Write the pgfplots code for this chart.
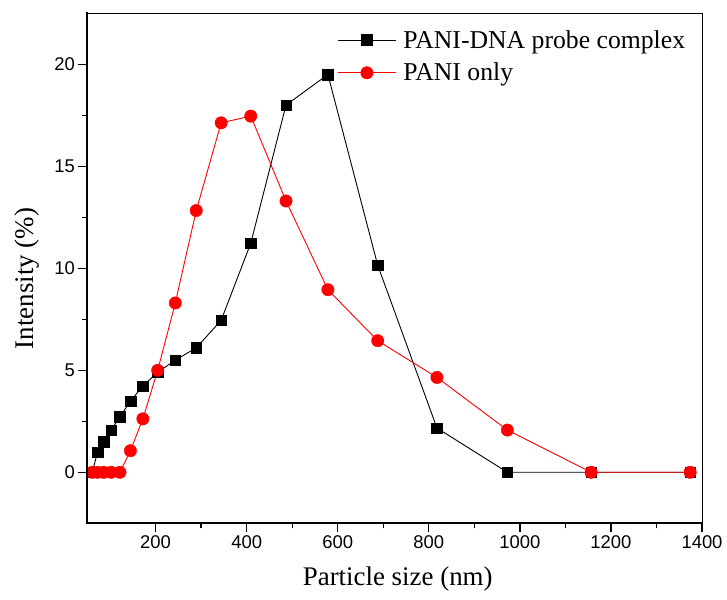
\documentclass[border=0pt]{standalone}
\usepackage{fontspec}
\setmainfont{Liberation Serif}
\newfontfamily\arialfont{Liberation Sans}
\usepackage{pgfplots}
\pgfplotsset{compat=1.18}
\usepackage{pgfplotstable}

\pgfplotstableread{
x y
60.9 0
72.4 0.98
86.1 1.5
102.4 2.07
121.7 2.72
144.7 3.49
172.1 4.23
204.6 4.9
243.3 5.5
289.3 6.1
344 7.45
409 11.23
486.4 18.0
578.4 19.5
687.8 10.15
817.9 2.17
972.6 0
1156.5 0
1374 0
}\dnatable

\pgfplotstableread{
x y
60.9 0
72.4 0
86.1 0
102.4 0
121.7 0
144.7 1.06
172.1 2.62
204.6 5.0
243.3 8.3
289.3 12.83
344 17.13
409 17.46
486.4 13.3
578.4 8.95
687.8 6.45
817.9 4.65
972.6 2.07
1156.5 0
1374 0
}\panitable

\begin{document}
\begin{tikzpicture}
\begin{axis}[
  at={(0,0)}, anchor=south west,
  scale only axis,
  width=614.7bp, height=510bp,
  xmin=50, xmax=1400,
  ymin=-2.5, ymax=22.5,
  xtick={200,400,...,1400},
  ytick={0,5,10,15,20},
  minor x tick num=1,
  minor y tick num=1,
  tick align=outside,
  xtick pos=lower, ytick pos=left,
  major tick length=9bp,
  minor tick length=5bp,
  every tick/.style={black, line width=1.3bp},
  axis line style={line width=0.8bp},
  /pgf/number format/assume math mode=true,
  /pgf/number format/1000 sep={},
  ticklabel style={font=\arialfont\fontsize{18.5}{20}\selectfont},
  xlabel={Particle size (nm)},
  ylabel={Intensity (\%)},
  every axis x label/.style={at={(axis description cs:0.505,-0.1098)}, anchor=center, font=\fontsize{27}{30}\selectfont},
  every axis y label/.style={at={(axis description cs:-0.0976,0.48)}, anchor=center, rotate=90, font=\fontsize{27}{30}\selectfont},
  legend style={draw=none, fill=none, at={(axis description cs:0.4067,0.971)}, anchor=north west,
    font=\fontsize{25.8}{28}\selectfont, inner sep=0pt, row sep=9.5bp, column sep=5bp,
    nodes={inner sep=2bp}},
  legend cell align=left,
  legend image code/.code={\draw[mark repeat=2,mark phase=2,#1] plot coordinates {(0bp,0bp) (29bp,0bp) (58bp,0bp)};},
  after end axis/.code={\draw[line width=2bp, line cap=rect] (rel axis cs:0,1) -- (rel axis cs:0,0) -- (rel axis cs:1,0);},
]
\addplot[black, line width=0.9bp, mark=square*, mark size=5.3bp, mark options={fill=black, line width=0.4bp}] table[x=x,y=y] {\dnatable};
\addlegendentry{PANI-DNA probe complex}
\addplot[red, line width=0.9bp, mark=*, mark size=6.2bp, mark options={fill=red, draw=red, line width=0.4bp}] table[x=x,y=y] {\panitable};
\addlegendentry{PANI only}
\end{axis}
\pgfresetboundingbox
\path (-87.3bp,-76.7bp) rectangle (639.7bp,523.3bp);
\end{tikzpicture}
\end{document}
